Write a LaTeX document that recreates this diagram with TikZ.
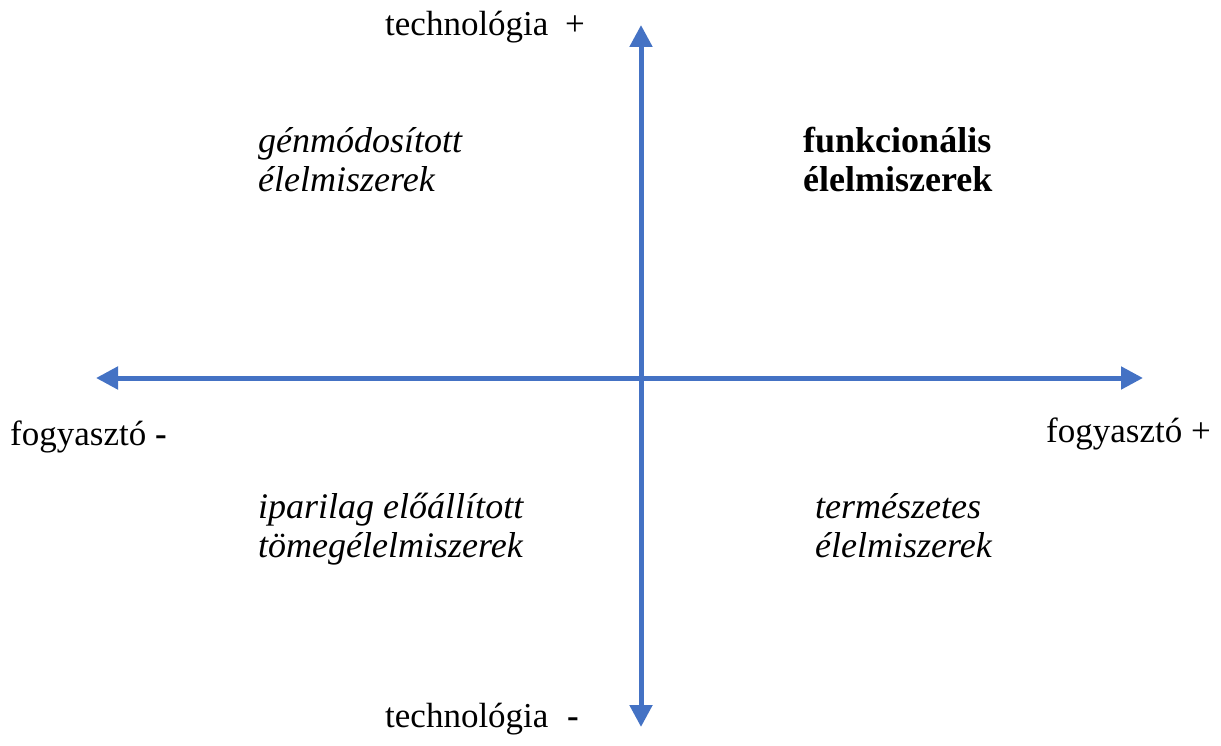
\documentclass[tikz,border=0pt]{standalone}
\usepackage{fontspec}
\setmainfont{Liberation Serif}
\usetikzlibrary{arrows.meta}
\definecolor{axisblue}{RGB}{68,114,196}
\begin{document}
\begin{tikzpicture}[x=1pt,y=-1pt,
  axis/.style={draw=axisblue,line width=5pt,-{Triangle[width=22pt,length=22pt]}},
  lbl/.style={anchor=base west,inner sep=0pt,align=left,
    font=\fontsize{35}{39}\selectfont},
  quad/.style={lbl,font=\fontsize{36}{39}\selectfont\itshape},
  quadbold/.style={lbl,font=\fontsize{36}{39}\selectfont\bfseries}]
  \useasboundingbox (0,0) rectangle (1221,746);
  % axis end points and crossing
  \coordinate (O) at (641,378);
  \coordinate (top) at (641,25);
  \coordinate (bottom) at (641,727);
  \coordinate (left) at (96,378);
  \coordinate (right) at (1143,378);
  \draw[axis] (O) -- (top);
  \draw[axis] (O) -- (bottom);
  \draw[axis] (O) -- (left);
  \draw[axis] (O) -- (right);
  % axis labels
  \node[lbl] (techplus) at (385,36) {technológia\hspace{8pt} +};
  \node[lbl] (techminus) at (385,727) {technológia\hspace{10pt} \textbf{-}};
  \node[lbl] (consminus) at (10,445) {fogyasztó \textbf{-}};
  \node[lbl] (consplus) at (1046,442) {fogyasztó +};
  % quadrant labels (anchored at the baseline of the second line)
  \node[quad] (gm) at (258,192) {génmódosított\\élelmiszerek};
  \node[quadbold] (func) at (803,192) {funkcionális\\élelmiszerek};
  \node[quad] (ind) at (258,557) {iparilag előállított\\tömegélelmiszerek};
  \node[quad] (nat) at (815,557) {természetes\\élelmiszerek};
\end{tikzpicture}
\end{document}
